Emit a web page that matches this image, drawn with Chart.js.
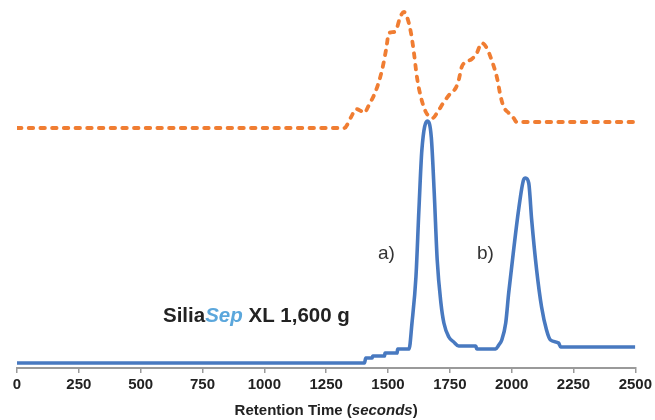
<!DOCTYPE html>
<html>
<head>
<meta charset="utf-8">
<script src="https://cdn.jsdelivr.net/npm/chart.js@4"></script>
<style>
  html, body { margin: 0; padding: 0; background: #fff; }
  #wrap { width: 655px; height: 420px; }
</style>
</head>
<body>
<div id="wrap"><canvas id="chart" width="655" height="420"></canvas></div>
<script>
// Retention time ticks (seconds)
const xTicks = [0, 250, 500, 750, 1000, 1250, 1500, 1750, 2000, 2250, 2500];

// Blue trace: SiliaSep XL 1,600 g (time, signal)
const blueTime = [0, 1405, 1410, 1436, 1438, 1486, 1488, 1537, 1539, 1585, 1597, 1613, 1625, 1637, 1659,
  1675, 1687, 1699, 1714, 1726, 1746, 1766, 1786, 1855, 1859, 1935, 1948, 1960, 1976, 1988, 2008,
  2028, 2048, 2056, 2069, 2081, 2101, 2121, 2141, 2157, 2190, 2198, 2500];
const blueSignal = [5, 5, 10, 10, 12, 12, 15, 15, 19, 19, 45, 91, 158, 218, 247,
  231, 175, 108, 65, 45, 31, 26, 22, 22, 19, 19, 23, 28, 45, 75, 118,
  158, 188, 190, 185, 148, 98, 61, 38, 28, 25, 21, 21];

// Orange dashed trace (time, signal)
const orangeTime = [0, 1323, 1351, 1371, 1391, 1403, 1423, 1452, 1476, 1492, 1504, 1524, 1536, 1548, 1565,
  1577, 1593, 1605, 1617, 1633, 1653, 1665, 1681, 1698, 1726, 1754, 1774, 1786, 1798, 1815, 1839,
  1859, 1879, 1899, 1919, 1940, 1956, 1968, 1988, 2008, 2020, 2500];
const orangeSignal = [240, 240, 251, 259, 257, 255, 263, 278, 298, 318, 335, 336, 340, 350, 356,
  351, 335, 315, 291, 271, 256, 252, 250, 255, 266, 275, 280, 288, 301, 306, 309,
  315, 325, 320, 308, 291, 271, 261, 255, 250, 246, 246];

const BLUE = '#4879c0';
const ORANGE = '#f07d32';
const FONT = '"Liberation Sans", Arial, sans-serif';

function toPoints(xs, ys) {
  return xs.map((x, i) => ({ x, y: ys[i] }));
}

// Text labels drawn on top of the chart
const labelsPlugin = {
  id: 'labels',
  afterDraw(chart) {
    const { ctx, scales } = chart;
    ctx.save();
    ctx.textBaseline = 'alphabetic';

    // a) / b)
    ctx.fillStyle = '#333';
    ctx.font = '19px ' + FONT;
    ctx.fillText('a)', 378, 259);
    ctx.fillText('b)', 477, 259);

    // SiliaSep XL 1,600 g
    let x = 163;
    const y = 321.5;
    ctx.font = 'bold 20.5px ' + FONT;
    ctx.fillStyle = '#222';
    ctx.fillText('Silia', x, y);
    x += ctx.measureText('Silia').width;
    ctx.font = 'italic bold 20.5px ' + FONT;
    ctx.fillStyle = '#5ba7dc';
    ctx.fillText('Sep', x, y);
    x += ctx.measureText('Sep').width;
    ctx.font = 'bold 20.5px ' + FONT;
    ctx.fillStyle = '#222';
    ctx.fillText(' XL 1,600 g', x, y);

    // axis title with italic part
    const parts = [
      ['bold 15px ' + FONT, 'Retention Time ('],
      ['italic bold 15px ' + FONT, 'seconds'],
      ['bold 15px ' + FONT, ')']
    ];
    let total = 0;
    parts.forEach(([f, t]) => { ctx.font = f; total += ctx.measureText(t).width; });
    const cx = (scales.x.left + scales.x.right) / 2;
    let tx = cx - total / 2;
    ctx.fillStyle = '#222';
    parts.forEach(([f, t]) => {
      ctx.font = f;
      ctx.fillText(t, tx, 415);
      tx += ctx.measureText(t).width;
    });
    ctx.restore();
  }
};

new Chart(document.getElementById('chart'), {
  type: 'line',
  data: {
    datasets: [
      {
        label: 'SiliaSep XL 1,600 g',
        data: toPoints(blueTime, blueSignal),
        borderColor: BLUE,
        borderWidth: 3.6,
        pointRadius: 0,
        cubicInterpolationMode: 'monotone',
        fill: false
      },
      {
        label: 'Reference',
        data: toPoints(orangeTime, orangeSignal),
        borderColor: ORANGE,
        borderWidth: 3.8,
        borderDash: [4.5, 7.2],
        borderCapStyle: 'round',
        pointRadius: 0,
        cubicInterpolationMode: 'monotone',
        fill: false
      }
    ]
  },
  options: {
    responsive: false,
    animation: false,
    layout: { padding: { left: 17, right: 18, top: 0, bottom: 26 } },
    plugins: {
      legend: { display: false },
      tooltip: { enabled: false }
    },
    scales: {
      x: {
        type: 'linear',
        min: 0,
        max: 2500,
        afterBuildTicks: (axis) => { axis.ticks = xTicks.map(v => ({ value: v })); },
        afterFit: (axis) => { axis.height = 26; },
        ticks: {
          autoSkip: false,
          maxRotation: 0,
          padding: 3,
          color: '#222',
          callback: (v) => String(v),
          font: { family: FONT, size: 15, weight: 'bold' }
        },
        grid: {
          drawOnChartArea: false,
          drawTicks: true,
          tickLength: 5,
          color: '#9a9a9a',
          lineWidth: 1.5
        },
        border: { display: true, color: '#9a9a9a', width: 2 }
      },
      y: {
        display: false,
        min: 0,
        max: 368
      }
    }
  },
  plugins: [labelsPlugin]
});
</script>
</body>
</html>
